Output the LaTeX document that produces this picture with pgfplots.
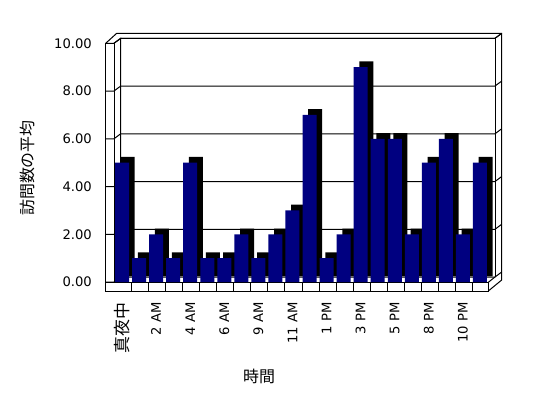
\documentclass[border=0pt]{standalone}
\usepackage{pgfplots}
\pgfplotsset{compat=1.18}
\usepackage{pgfplotstable}
\usepackage{fontspec}
\setmainfont{DejaVu Sans}
\newfontfamily\jp{Noto Sans CJK JP}
\definecolor{navy}{RGB}{0,0,128}
\pgfplotstableread{
x y
0 5
1 1
2 2
3 1
4 5
5 1
6 1
7 2
8 1
9 2
10 3
11 7
12 1
13 2
14 9
15 6
16 6
17 2
18 5
19 6
20 2
21 5
}\visits
\begin{document}
\begin{tikzpicture}[x=1bp,y=1bp]
\path[use as bounding box, fill=white] (0,0) rectangle (548,398);
\begin{scope}[shift={(0,398)}, yscale=-1, line width=1bp]
  % left wall
  \draw (105.7,43.3) -- (105.7,291);
  \draw (114,43.3) -- (114,282);
  \draw (114,43.3) -- (120.7,38.3) -- (120.7,277);
  \draw (105.7,43.3) -- (116.7,33.3) -- (501.7,33.3) -- (501.7,280) -- (488.3,291);
  \draw (120.7,38.3) -- (495,38.3) -- (501.7,33.3);
  \draw (495,38.3) -- (495,277);
  % grid lines
  \foreach \v in {0,2,...,10}{
    \pgfmathsetmacro{\yf}{282-23.87*\v}
    \draw (105.7,\yf) -- (114,\yf) -- (120.7,\yf-5) -- (495,\yf-5) -- (501.7,\yf-10);
  }
  % floor front
  \draw (105.7,282.3) rectangle (488.3,291);
  \foreach \k in {0,...,20}{
    \draw ({131.7+17.03*\k},282.3) -- ({131.7+17.03*\k},291);
  }
  \draw (488.3,282.3) -- (495,277);
  % labels
  \node[rotate=90, font=\jp\fontsize{16}{16}\selectfont, inner sep=0pt] at (27.5,168) {訪問数の平均};
  \node[font=\jp\fontsize{16}{16}\selectfont, inner sep=0pt] at (259,376) {時間};
\end{scope}
\begin{axis}[
  at={(113.5bp,116bp)}, anchor=south west,
  scale only axis, width=375bp, height=238.7bp,
  xmin=-0.5, xmax=21.5, ymin=0, ymax=10,
  clip=false,
  axis line style={draw=none},
  tick style={draw=none},
  ytick={0,2,...,10},
  /pgf/number format/fixed,
  /pgf/number format/fixed zerofill,
  /pgf/number format/precision=2,
  /pgf/number format/assume math mode=true,
  yticklabel style={inner sep=0pt, anchor=east},
  yticklabel shift=21.5bp,
  xtick={0,2,...,20},
  xticklabels={{\jp\fontsize{17}{17}\selectfont 真夜中}, 2 AM, 4 AM, 6 AM, 9 AM, 11 AM, 1 PM, 3 PM, 5 PM, 8 PM, 10 PM},
  xticklabel style={rotate=90, anchor=east, inner sep=0pt},
  xticklabel shift=20bp,
  tick label style={font=\fontsize{13.2}{13.2}\selectfont},
]
\addplot[ybar, bar width=14bp, bar shift=0pt, fill=black, draw=none, xshift=5.7bp, yshift=5.7bp] table[x=x,y=y]{\visits};
\addplot[ybar, bar width=14bp, bar shift=0pt, fill=navy, draw=none] table[x=x,y=y]{\visits};
\end{axis}
\end{tikzpicture}
\end{document}
